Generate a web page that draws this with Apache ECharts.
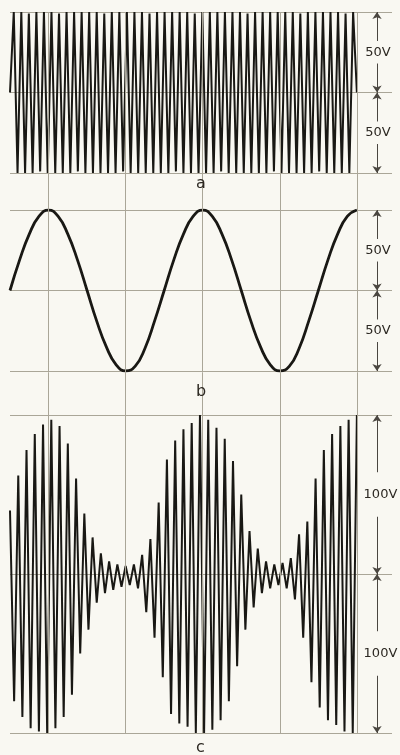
<!DOCTYPE html>
<html>
<head>
<meta charset="utf-8">
<script src="https://cdn.jsdelivr.net/npm/echarts@6/dist/echarts.min.js"></script>
<style>
  html, body { margin: 0; padding: 0; background: #f9f8f2; }
  #chart { width: 400px; height: 755px; }
</style>
</head>
<body>
<div id="chart"></div>
<script>
// a: carrier wave, peak volts (one value per half cycle)
const carrierPeaks = [0,
  50, -50, 50, -50, 49, -50, 50, -49, 50, -50, 50, -50, 49, -50, 50, -50, 50, -49, 50, -50,
  50, -50, 50, -50, 49, -50, 50, -50, 50, -49, 50, -50, 50, -50, 50, -50, 49, -50, 50, -50,
  50, -50, 50, -49, 50, -50, 50, -50, 49, -50, 50, -50, 50, -50, 50, -49, 50, -50, 50, -50,
  50, -50, 49, -50, 50, -50, 50, -50, 50, -49, 50, -50, 50, -50, 50, -50, 49, -50, 50, -50,
  50, -49, 50, -50, 50, -50, 50, -50, 49, -50, 50, 0];

// b: modulating wave, volts every 22.5 degrees
const modWave = [0, 19, 35, 46, 50, 46, 35, 19, 0, -19, -35, -46, -50, -47, -36, -19, 0,
  19, 35, 46, 50, 46, 35, 19, 0, -19, -35, -46, -50, -47, -36, -19, 0, 19, 35, 46, 50];

// c: modulated wave, peak volts (one value per half cycle)
const modulatedPeaks = [40, -80, 62, -90, 78, -97, 88, -99, 94, -100, 97, -97, 93, -90, 82,
  -76, 60, -50, 38, -35, 23, -18, 13, -12, 8, -10, 6, -8, 5, -7, 6, -9, 12, -24, 22, -40,
  45, -65, 72, -88, 84, -94, 91, -96, 95, -100, 100, -100, 97, -98, 92, -92, 85, -80, 71,
  -58, 50, -35, 27, -21, 16, -12, 8, -9, 6, -7, 7, -9, 10, -16, 25, -40, 33, -68, 60, -84,
  78, -92, 88, -95, 93, -99, 97, -100, 100];

const phaseEnd = 810;                      // data spans 2 1/4 cycles of the modulating wave
const gridPhases = [90, 270, 450, 630, 810];
const ticksA = [-50, 0, 50];
const ticksC = [-100, 0, 100];
const panelNames = ['a', 'b', 'c'];
const voltLabelsA = ['50V', '50V'];
const voltLabelsB = ['50V', '50V'];
const voltLabelsC = ['100V', '100V'];

const X_MAX = 892;       // axis runs on past the data so the lines reach the labels
const NOTE_X = 857;      // phase position of the dimension arrows
const ink = '#191814';
const gridCol = '#aaa698';
const textCol = '#2c2822';

const spread = (arr) => arr.map((v, i) => [i * phaseEnd / (arr.length - 1), v]);

// dimension arrows with a label between them, for one panel
function dimension(ticks, labels, shift) {
  const top = ticks[2], mid = ticks[1], bot = ticks[0];
  const half = top - mid;
  const up = mid + half / 2, dn = mid - half / 2, g = half * 0.14;
  return {
    markLine: {
      silent: true,
      symbol: ['none', 'arrow'],
      symbolSize: 7,
      lineStyle: { color: '#4a4640', width: 1, type: 'solid' },
      label: { show: false },
      data: [
        [{ coord: [NOTE_X, up + g] }, { coord: [NOTE_X, top] }],
        [{ coord: [NOTE_X, up - g] }, { coord: [NOTE_X, mid] }],
        [{ coord: [NOTE_X, dn + g] }, { coord: [NOTE_X, mid] }],
        [{ coord: [NOTE_X, dn - g] }, { coord: [NOTE_X, bot] }]
      ]
    },
    markPoint: {
      silent: true,
      symbol: 'circle',
      symbolSize: 1,
      itemStyle: { color: 'transparent' },
      label: {
        show: true, position: 'inside', formatter: '{b}',
        color: textCol, fontFamily: 'DejaVu Sans', fontSize: 13
      },
      data: [
        { name: labels[0], coord: [NOTE_X + shift, up] },
        { name: labels[1], coord: [NOTE_X + shift, dn] }
      ]
    }
  };
}

const grids = [
  { left: 10, right: 8, top: 12, height: 161 },
  { left: 10, right: 8, top: 210, height: 161 },
  { left: 10, right: 8, top: 415, height: 318 },
  { left: 10, right: 8, top: 12, height: 721 }
];

const xAxes = grids.map((g, i) => ({
  type: 'value', gridIndex: i, min: 0, max: X_MAX, show: false
}));

function yAx(i, ticks) {
  return {
    type: 'value', gridIndex: i, min: ticks[0], max: ticks[2], interval: ticks[2],
    axisLine: { show: false }, axisTick: { show: false }, axisLabel: { show: false },
    splitLine: { show: true, lineStyle: { color: gridCol, width: 1 } }
  };
}

const chart = echarts.init(document.getElementById('chart'), null, { renderer: 'canvas' });

chart.setOption({
  animation: false,
  backgroundColor: '#f9f8f2',
  grid: grids,
  xAxis: xAxes,
  yAxis: [
    yAx(0, ticksA),
    yAx(1, ticksA),
    yAx(2, ticksC),
    { type: 'value', gridIndex: 3, min: 0, max: 1, show: false }
  ],
  graphic: panelNames.map((n, i) => ({
    type: 'text',
    left: 196,
    top: [176, 384, 740][i],
    style: { text: n, fill: textCol, font: '16px "DejaVu Sans"' },
    z: 10
  })),
  series: [
    {
      type: 'line', name: 'grid', xAxisIndex: 3, yAxisIndex: 3, data: [],
      markLine: {
        silent: true, symbol: ['none', 'none'],
        lineStyle: { color: gridCol, width: 1, type: 'solid' },
        label: { show: false },
        data: gridPhases.map(p => ({ xAxis: p }))
      }
    },
    Object.assign({
      type: 'line', name: 'a', xAxisIndex: 0, yAxisIndex: 0, showSymbol: false,
      data: spread(carrierPeaks),
      lineStyle: { color: ink, width: 2 }
    }, dimension(ticksA, voltLabelsA, 2)),
    Object.assign({
      type: 'line', name: 'b', xAxisIndex: 1, yAxisIndex: 1, showSymbol: false, smooth: true,
      data: spread(modWave),
      lineStyle: { color: ink, width: 2.8 }
    }, dimension(ticksA, voltLabelsB, 2)),
    Object.assign({
      type: 'line', name: 'c', xAxisIndex: 2, yAxisIndex: 2, showSymbol: false,
      data: spread(modulatedPeaks),
      lineStyle: { color: ink, width: 2 }
    }, dimension(ticksC, voltLabelsC, 8))
  ]
});
</script>
</body>
</html>
